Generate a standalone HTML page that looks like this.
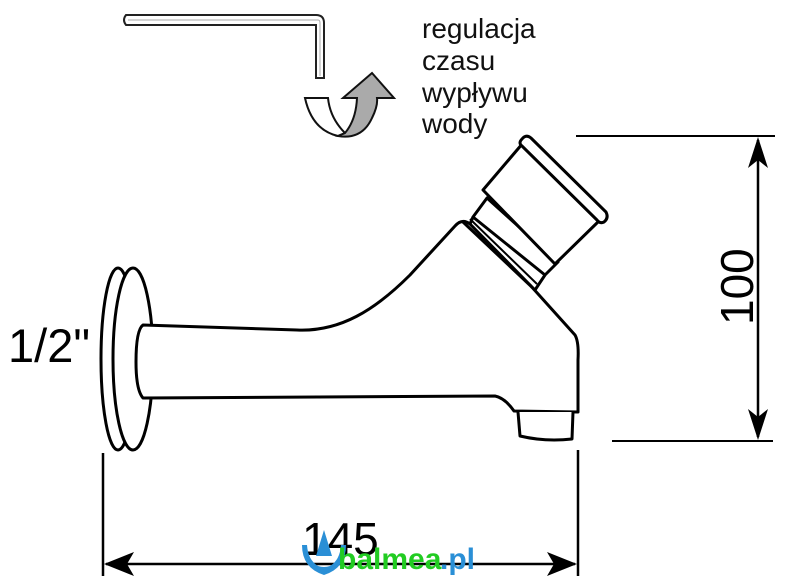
<!DOCTYPE html>
<html><head><meta charset="utf-8"><style>
html,body{margin:0;padding:0;background:#fff;}
svg{display:block;}
text{font-family:"Liberation Sans",Arial,sans-serif;}
</style></head><body>
<svg width="789" height="586" viewBox="0 0 789 586" xmlns="http://www.w3.org/2000/svg">
<rect width="789" height="586" fill="#fff"/>
<!-- allen key -->
<path d="M126 15 L316 15 Q324 15 324 23 L324 78 L316 78 L316 25 L126 25 Q122 20 126 15 Z" fill="#fff" stroke="#222" stroke-width="2"/>
<path d="M128 20 L318 20 Q320 20 320 23 L320 76" fill="none" stroke="#aaa" stroke-width="1"/>
<!-- curl arrow -->
<path d="M305 98 L328 98 Q330 118 345 133 L338 136 Q312 130 305 98 Z" fill="#fff" stroke="#111" stroke-width="2"/>
<path d="M338 136 Q362 140 372 118 Q378 106 377 98 L394 98 L372 73 L343 98 L357 98 Q356 120 345 133 Z" fill="#aaa" stroke="#111" stroke-width="2"/>
<text x="422" y="38" font-size="28" fill="#111">regulacja</text>
<text x="422" y="70" font-size="28" fill="#111">czasu</text>
<text x="422" y="102" font-size="28" fill="#111">wypływu</text>
<text x="422" y="133" font-size="28" fill="#111">wody</text>
<!-- flange -->
<ellipse cx="118" cy="359" rx="17" ry="91" fill="#fff" stroke="#000" stroke-width="3"/>
<ellipse cx="133" cy="359" rx="20" ry="91" fill="#fff" stroke="#000" stroke-width="3"/>
<!-- body -->
<path d="M143 325 L297 330 C340 332 375 310 410 275 L455 226 Q462 218 470 224 L530 285 L575 335 Q579 342 578 360 L578 412 L514 411 Q505 398 495 396 L143 398 Q136 390 136 362 Q136 330 143 325 Z" fill="#fff" stroke="#000" stroke-width="3" stroke-linejoin="round"/>
<!-- collar band -->
<path d="M463 222 L535 290" stroke="#000" stroke-width="3"/>
<path d="M470 219 L537 284" stroke="#000" stroke-width="2"/>
<!-- neck -->
<path d="M473 217 L487 198 L558 262 L545 275 Z" fill="#fff" stroke="#000" stroke-width="3" stroke-linejoin="round"/>
<path d="M470 224 L473 217 M535 290 L545 275" stroke="#000" stroke-width="3"/>
<!-- cap -->
<path d="M483 190 L523 143 L600 220 L555 264 Z" fill="#fff" stroke="#000" stroke-width="3" stroke-linejoin="round"/>
<path d="M522 139 Q526 134 531 138 L606 212 Q609 218 604 222 Q600 224 597 220 L522 146 Q518 143 522 139 Z" fill="#fff" stroke="#000" stroke-width="3"/>
<!-- nozzle -->
<path d="M518 412 L520 436 Q545 442 572 439 L573 412" fill="#fff" stroke="#000" stroke-width="3" stroke-linejoin="round"/>
<!-- dimension 100 -->
<line x1="576" y1="136" x2="775" y2="136" stroke="#000" stroke-width="2"/>
<line x1="612" y1="441" x2="773" y2="441" stroke="#000" stroke-width="2"/>
<line x1="758" y1="140" x2="758" y2="437" stroke="#000" stroke-width="2.5"/>
<path d="M758 137 L748 168 L758 160 L768 168 Z" fill="#000"/>
<path d="M758 440 L748 409 L758 417 L768 409 Z" fill="#000"/>
<text transform="translate(753,325) rotate(-90)" font-size="46" fill="#000">100</text>
<!-- dimension 145 -->
<line x1="103" y1="453" x2="103" y2="576" stroke="#000" stroke-width="2.5"/>
<line x1="578" y1="450" x2="578" y2="576" stroke="#000" stroke-width="2.5"/>
<line x1="106" y1="564" x2="575" y2="564" stroke="#000" stroke-width="2.5"/>
<path d="M104 564 L134 552 L127 564 L134 576 Z" fill="#000"/>
<path d="M577 564 L547 552 L554 564 L547 576 Z" fill="#000"/>
<text x="302" y="555" font-size="46" fill="#000">145</text>
<text x="8" y="362" font-size="47" fill="#000">1/2"</text>
<!-- logo -->
<path d="M302 545 L307 545 Q308 560 318 566 Q324 568 330 566 Q340 560 341 545 L346 545 Q346 568 324 575 Q302 568 302 545 Z" fill="#2a8fd6"/>
<path d="M324 530 L316 556 L332 556 Z" fill="#2a8fd6"/>
<text x="338" y="569" font-size="30" font-weight="bold" fill="#22cc22">balmea</text>
<text x="440" y="569" font-size="30" font-weight="bold" fill="#2a8fd6">.pl</text>
</svg>
</body></html>
